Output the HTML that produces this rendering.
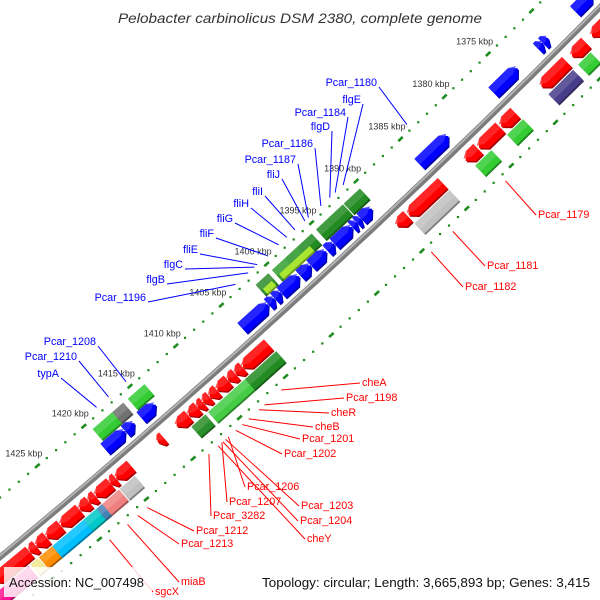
<!DOCTYPE html>
<html><head><meta charset="utf-8">
<style>
html,body{margin:0;padding:0;background:#fff;width:600px;height:600px;overflow:hidden}
svg{display:block;overflow:hidden}
text{font-family:"Liberation Sans","DejaVu Sans",sans-serif}
</style></head>
<body>
<svg id="map" width="600" height="600" viewBox="0 0 600 600" xmlns="http://www.w3.org/2000/svg">
<g id="ticks"></g>
<g id="backbone"></g>
<g id="feats"></g>
<g id="labels"></g>
<text x="300" y="23" text-anchor="middle" font-size="14" font-style="italic" fill="#333" textLength="364" lengthAdjust="spacingAndGlyphs">Pelobacter carbinolicus DSM 2380, complete genome</text>
<rect x="4" y="567" width="148" height="30" fill="#fff" fill-opacity="0.82"/>
<text x="9" y="587" font-size="12.5" fill="#111" textLength="135" lengthAdjust="spacingAndGlyphs">Accession: NC_007498</text>
<text x="590" y="587" text-anchor="end" font-size="12.5" fill="#111" textLength="328" lengthAdjust="spacingAndGlyphs">Topology: circular; Length: 3,665,893 bp; Genes: 3,415</text>
</svg>
<script>
// ---- data ----
const tickStart = 1355, tickEnd = 1445;
const kbpLabels = [1375, 1380, 1385, 1390, 1395, 1400, 1405, 1410, 1415, 1420, 1425];
const featStart = [1365.5,1370.6,1371.2,1374.1,1382.0,1390.6,1391.8,1392.3,1392.8,1394.8,1395.7,1397.4,1398.7,1400.7,1401.4,1402.1,1414.4,1416.7,1417.7,
 1390.2,1392.1,1393.8,1395.6,1397.2,1398.6,1400.4,1414.0,1416.3,1417.5,
 1396.4,1400.6,
 1366.5,1368.7,1370.9,1376.8,1378.5,1381.0,1385.0,1388.9,1404.3,1407.1,1407.9,1408.7,1409.9,1410.7,1411.4,1412.0,1413.0,1415.7,1419.2,1420.8,1421.4,1423.0,1423.7,1424.7,1426.7,1428.2,1429.3,1430.0,
 1369.0,1371.0,1376.7,1380.3,1385.0,1404.2,1407.6,1409.0,1410.3,1411.9,1419.5,1421.2,1423.0,1423.6,1425.0,1426.7,1428.3,1429.8,1430.8];
const featEnd = [1367.5,1371.2,1371.8,1376.9,1385.3,1391.8,1392.3,1392.8,1394.8,1395.6,1397.4,1398.6,1400.7,1401.4,1402.1,1405.0,1416.0,1417.7,1419.9,
 1392.0,1393.8,1395.1,1397.2,1398.6,1400.0,1401.8,1415.8,1417.5,1419.6,
 1399.8,1401.6,
 1368.0,1370.3,1373.8,1378.4,1380.9,1382.4,1388.8,1390.1,1407.1,1407.9,1408.7,1409.9,1410.7,1411.4,1412.0,1413.0,1414.3,1416.3,1420.8,1421.4,1423.0,1423.7,1424.7,1426.7,1428.2,1429.3,1430.0,1433.8,
 1370.4,1373.8,1378.5,1382.1,1388.9,1407.6,1409.0,1410.3,1411.6,1413.4,1421.1,1423.0,1423.6,1425.0,1426.7,1428.3,1429.7,1430.6,1434.5];
const featLane = ['b','b','b','b','b','b','b','b','b','b','b','b','b','b','b','b','b','b','b',
 'g','g','g','g','g','g','g','g','g','g',
 'y','y',
 'r','r','r','r','r','r','r','r','r','r','r','r','r','r','r','r','r','r','r','r','r','r','r','r','r','r','r','r',
 'o','o','o','o','o','o','o','o','o','o','o','o','o','o','o','o','o','o','o'];
const featStrand = [1,1,1,1,1,1,1,1,1,1,1,1,1,1,1,1,1,1,1,
 0,0,0,0,0,0,0,0,0,0, 0,0,
 -1,-1,-1,-1,-1,-1,-1,-1,-1,-1,-1,-1,-1,-1,-1,-1,-1,-1,-1,-1,-1,-1,-1,-1,-1,-1,-1,-1,
 0,0,0,0,0,0,0,0,0,0,0,0,0,0,0,0,0,0,0];
const featColor = ['#0000ff','#0000ff','#0000ff','#0000ff','#0000ff','#0000ff','#0000ff','#0000ff','#0000ff','#0000ff','#0000ff','#0000ff','#0000ff','#0000ff','#0000ff','#0000ff','#0000ff','#0000ff','#0000ff',
 '#228b22','#228b22','#228b22','#228b22','#2a942a','#33a033','#2e8b2e','#33cc33','#707070','#33cc33',
 '#a8e632','#a8e632',
 '#ff0000','#ff0000','#ff0000','#ff0000','#ff0000','#ff0000','#ff0000','#ff0000','#ff0000','#ff0000','#ff0000','#ff0000','#ff0000','#ff0000','#ff0000','#ff0000','#ff0000','#ff0000','#ff0000','#ff0000','#ff0000','#ff0000','#ff0000','#ff0000','#ff0000','#ff0000','#ff0000','#ff0000',
 '#33cc33','#483d8b','#33cc33','#33cc33','#c0c0c0','#228b22','#44cc44','#44cc44','#44cc44','#2a8f2a','#c0c0c0','#f08080','#4682b4','#00c8c8','#00bfff','#00bfff','#ff8c00','#f0e68c','#ff1493'];
const blueNames = ['Pcar_1180','flgE','Pcar_1184','flgD','Pcar_1186','Pcar_1187','fliJ','fliI','fliH','fliG','fliF','fliE','flgC','flgB','Pcar_1196','Pcar_1208','Pcar_1210','typA'];
const blueAnchor = [1383.8,1391.0,1391.9,1392.5,1393.5,1394.9,1395.3,1396.4,1397.3,1398.2,1399.5,1400.6,1400.9,1401.6,1403.0,1415.0,1416.9,1418.2];
const blueTextX = [377,361,346,330,313,296,280,263,249,233,214,198,183,165,146,96,77,59];
const blueTextY = [82,99,112,126,143,159,174,191,203,218,233,249,264,279,297,341,356,373];
const redNames = ['cheA','Pcar_1198','cheR','cheB','Pcar_1201','Pcar_1202','Pcar_1206','Pcar_1203','Pcar_1207','Pcar_1204','cheY','Pcar_3282','Pcar_1212','Pcar_1213','miaB','sgcX','Pcar_1179','Pcar_1181','Pcar_1182'];
const redAnchor = [1406.0,1407.8,1408.4,1409.5,1410.2,1410.9,1411.7,1412.0,1412.4,1412.3,1412.8,1413.8,1420.4,1421.4,1422.5,1424.4,1381.2,1387.1,1389.5];
const redTextX = [362,346,331,315,302,284,247,301,229,300,307,213,196,181,181,155,538,487,465];
const redTextY = [382,397,412,426,438,453,486,505,501,520,538,515,530,543,581,591,214,265,286];

// ---- geometry ----
const CX=-5249, CY=-5772, R=8222.6, A0=47.58, DEG=0.0856, PXK=12.28;
function pt(k,d){const a=(A0+(k-1400)*DEG)*Math.PI/180;return [CX+(R+d)*Math.cos(a),CY+(R+d)*Math.sin(a)];}
const laneD={b:-15,g:-31,y:-27,r:15,o:32}, laneH={b:7,g:7,y:3.2,r:7,o:7};
const NS='http://www.w3.org/2000/svg';
function mk(tag,attrs,parent){const e=document.createElementNS(NS,tag);for(const k in attrs)e.setAttribute(k,attrs[k]);parent.appendChild(e);return e;}
function P(a){return a.map(p=>p[0].toFixed(1)+','+p[1].toFixed(1)).join(' ');}
function shade(hex,f){const n=parseInt(hex.slice(1),16);let r=n>>16,g=(n>>8)&255,b=n&255;
 if(f<0){r*=1+f;g*=1+f;b*=1+f;}else{r+=(255-r)*f;g+=(255-g)*f;b+=(255-b)*f;}
 return 'rgb('+Math.round(r)+','+Math.round(g)+','+Math.round(b)+')';}

// ticks
const tg=document.getElementById('ticks');
[-46,50].forEach(d=>{
 for(let k=tickStart;k<=tickEnd;k++){
  if(k%5===0){
   const p1=pt(k-0.25,d),p2=pt(k+0.25,d);
   const e=mk('line',{x1:p1[0],y1:p1[1],x2:p2[0],y2:p2[1],stroke:'#1e8c1e','stroke-width':2.6},tg);
   
   
  }else{
   const p=pt(k,d);
   const e=mk('rect',{x:p[0]-1,y:p[1]-1,width:2.2,height:2.2,fill:'#1e8c1e'},tg);
   
   
  }
 }
});
kbpLabels.forEach(k=>{
 const p=pt(k,-46);
 const t=mk('text',{x:p[0]+5,y:p[1]-9.5,'text-anchor':'end','font-size':9,fill:'#333'},tg);
 t.textContent=k+' kbp';
 
 
});

// backbone
const bg=document.getElementById('backbone');
function arcPts(d){const a=[];for(let k=1360;k<=1440;k+=1)a.push(pt(k,d));return a;}
const b1=mk('polyline',{points:P(arcPts(0)),fill:'none',stroke:'#7c7c7c','stroke-width':6},bg);


const b2=mk('polyline',{points:P(arcPts(-1.3)),fill:'none',stroke:'#b4b4b4','stroke-width':2},bg);



// features
const fg=document.getElementById('feats');
function shape(a,b,d,h,strand){
 const len=(b-a)*PXK, hl=Math.min(7,len*0.55)/PXK;
 if(strand===1){return [pt(a,d),pt(a+hl,d-h),pt(b,d-h),pt(b,d+h),pt(a+hl,d+h)];}
 if(strand===-1){return [pt(b,d),pt(b-hl,d+h),pt(a,d+h),pt(a,d-h),pt(b-hl,d-h)];}
 return [pt(a,d-h),pt(b,d-h),pt(b,d+h),pt(a,d+h)];
}
for(let i=0;i<featStart.length;i++){
 const d=laneD[featLane[i]],h=laneH[featLane[i]],c=featColor[i];
 const g=mk('g',{},fg);
 
 
 mk('polygon',{points:P(shape(featStart[i],featEnd[i],d,h,featStrand[i]).map(p=>[p[0]+1.2,p[1]+1.4])),fill:shade(c,-0.35)},g);
 mk('polygon',{points:P(shape(featStart[i],featEnd[i],d,h,featStrand[i])),fill:c},g);
 if(featLane[i]!=='y')mk('polygon',{points:P(shape(featStart[i],featEnd[i],d-h*0.45,h*0.55,featStrand[i])),fill:shade(c,0.18),'fill-opacity':0.8},g);
}

// labels
const lg=document.getElementById('labels');
for(let i=0;i<blueNames.length;i++){
 const p=pt(blueAnchor[i],-52);
 const l=mk('line',{x1:blueTextX[i]+2,y1:blueTextY[i]+5,x2:p[0],y2:p[1],stroke:'#0000ff','stroke-width':1},lg);
 
 
 const t=mk('text',{x:blueTextX[i],y:blueTextY[i]+4,'text-anchor':'end','font-size':10.8,fill:'#0000ff'},lg);
 t.textContent=blueNames[i];
 
 
}
for(let i=0;i<redNames.length;i++){
 const p=pt(redAnchor[i],57);
 const l=mk('line',{x1:p[0],y1:p[1],x2:redTextX[i]-2,y2:redTextY[i]+1,stroke:'#ff0000','stroke-width':1},lg);
 
 
 const t=mk('text',{x:redTextX[i],y:redTextY[i]+4,'font-size':10.8,fill:'#ff0000'},lg);
 t.textContent=redNames[i];
 
 
}
</script>
</body></html>
